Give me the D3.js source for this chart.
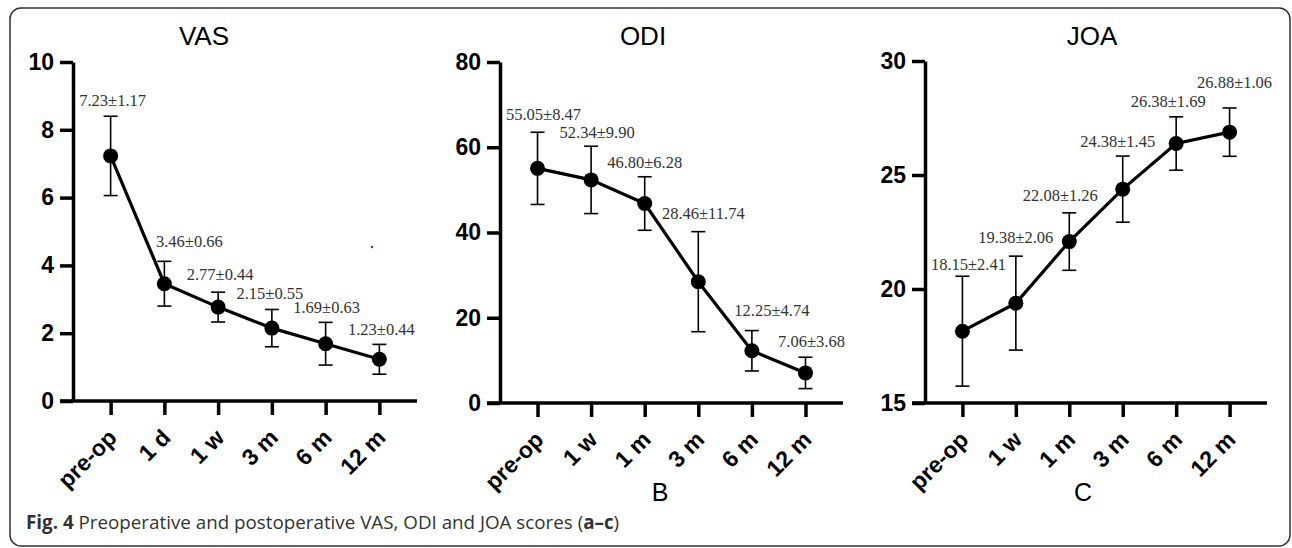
<!DOCTYPE html>
<html>
<head>
<meta charset="utf-8">
<script src="https://cdn.jsdelivr.net/npm/d3@7"></script>
<style>
  body { margin: 0; background: #fff; }
  svg { display: block; }
</style>
</head>
<body>
<div id="chart"></div>
<script>
// categories
const vasCats = ["pre-op", "1 d", "1 w", "3 m", "6 m", "12 m"];
const odiCats = ["pre-op", "1 w", "1 m", "3 m", "6 m", "12 m"];
const joaCats = ["pre-op", "1 w", "1 m", "3 m", "6 m", "12 m"];

// means
const vasMean = [7.23, 3.46, 2.77, 2.15, 1.69, 1.23];
const odiMean = [55.05, 52.34, 46.80, 28.46, 12.25, 7.06];
const joaMean = [18.15, 19.38, 22.08, 24.38, 26.38, 26.88];

// error bar half-widths as drawn in the figure
const vasErr = [1.17, 0.66, 0.44, 0.55, 0.63, 0.44];
const odiErr = [8.47, 7.9, 6.28, 11.74, 4.74, 3.68];
const joaErr = [2.41, 2.06, 1.26, 1.45, 1.17, 1.06];

// printed labels
const vasLabels = ["7.23\u00b11.17", "3.46\u00b10.66", "2.77\u00b10.44", "2.15\u00b10.55", "1.69\u00b10.63", "1.23\u00b10.44"];
const odiLabels = ["55.05\u00b18.47", "52.34\u00b19.90", "46.80\u00b16.28", "28.46\u00b111.74", "12.25\u00b14.74", "7.06\u00b13.68"];
const joaLabels = ["18.15\u00b12.41", "19.38\u00b12.06", "22.08\u00b11.26", "24.38\u00b11.45", "26.38\u00b11.69", "26.88\u00b11.06"];

// y ticks
const vasTicks = [0, 2, 4, 6, 8, 10];
const odiTicks = [0, 20, 40, 60, 80];
const joaTicks = [15, 20, 25, 30];

// label nudges (dx from point, dy from top of error bar)
const vasNudge = [[2, -10], [25, -14], [2, -12], [-2, -10], [1, -9], [2, -9]];
const odiNudge = [[6, -12], [6, -8], [0, -9], [5, -13], [20, -15], [6, -10]];
const joaNudge = [[6, -6], [0, -13], [-9, -12], [-5, -9], [-8, -10], [5, -20]];

const W = 1292, H = 548;
const svg = d3.select("#chart").append("svg").attr("width", W).attr("height", H);

// outer frame
svg.append("rect")
    .attr("x", 10).attr("y", 8).attr("width", 1280).attr("height", 538)
    .attr("rx", 11).attr("ry", 11)
    .attr("fill", "none").attr("stroke", "#333").attr("stroke-width", 1.5);

const panels = [
    { title: "VAS", titleX: 204, cats: vasCats, mean: vasMean, err: vasErr, labels: vasLabels, ticks: vasTicks,
      nudge: vasNudge, domain: [0, 10], ax: 73, ax2: 417, y0: 401, y1: 62, letter: null },
    { title: "ODI", titleX: 643, cats: odiCats, mean: odiMean, err: odiErr, labels: odiLabels, ticks: odiTicks,
      nudge: odiNudge, domain: [0, 80], ax: 500, ax2: 843, y0: 403, y1: 62, letter: "B", letterX: 660 },
    { title: "JOA", titleX: 1092, cats: joaCats, mean: joaMean, err: joaErr, labels: joaLabels, ticks: joaTicks,
      nudge: joaNudge, domain: [15, 30], ax: 925, ax2: 1267, y0: 403, y1: 61, letter: "C", letterX: 1083 }
];

const tickFont = sel => sel
    .style("font-family", "'Liberation Sans', Arial, sans-serif")
    .style("font-weight", "bold")
    .style("font-size", "23px")
    .style("fill", "#000");

panels.forEach(p => {
    const g = svg.append("g");
    const x = d3.scalePoint().domain(p.cats).range([p.ax, p.ax2]).padding(0.7);
    const y = d3.scaleLinear().domain(p.domain).range([p.y0, p.y1]);

    // title
    g.append("text")
        .attr("x", p.titleX).attr("y", 45)
        .attr("text-anchor", "middle")
        .style("font-family", "'Liberation Sans', Arial, sans-serif")
        .style("font-size", "26px")
        .text(p.title);

    // y axis
    const yAxis = g.append("g")
        .attr("transform", `translate(${p.ax},0)`)
        .call(d3.axisLeft(y).tickValues(p.ticks).tickSize(13).tickSizeOuter(0).tickPadding(6));
    yAxis.select(".domain").attr("stroke", "#000").attr("stroke-width", 3.5);
    yAxis.selectAll(".tick line").attr("stroke", "#000").attr("stroke-width", 3.5);
    yAxis.selectAll(".tick text").call(tickFont);

    // x axis
    const xAxis = g.append("g")
        .attr("transform", `translate(0,${p.y0})`)
        .call(d3.axisBottom(x).tickSize(14).tickSizeOuter(0));
    xAxis.select(".domain")
        .attr("d", `M${p.ax - 13},0H${p.ax2}`)
        .attr("stroke", "#000").attr("stroke-width", 3.5);
    xAxis.selectAll(".tick line").attr("stroke", "#000").attr("stroke-width", 3.5);
    xAxis.selectAll(".tick text")
        .call(tickFont)
        .attr("x", 0).attr("y", 0).attr("dy", null)
        .attr("text-anchor", "end")
        .attr("transform", "translate(7,38) rotate(-45)");

    // error bars
    const eb = g.append("g").attr("stroke", "#000").attr("stroke-width", 1.6);
    p.cats.forEach((c, i) => {
        const cx = x(c), top = y(p.mean[i] + p.err[i]), bot = y(p.mean[i] - p.err[i]);
        eb.append("line").attr("x1", cx).attr("x2", cx).attr("y1", top).attr("y2", bot);
        eb.append("line").attr("x1", cx - 7).attr("x2", cx + 7).attr("y1", top).attr("y2", top);
        eb.append("line").attr("x1", cx - 7).attr("x2", cx + 7).attr("y1", bot).attr("y2", bot);
    });

    // line
    const line = d3.line().x((d, i) => x(p.cats[i])).y(d => y(d));
    g.append("path").datum(p.mean)
        .attr("d", line)
        .attr("fill", "none").attr("stroke", "#000").attr("stroke-width", 3.2);

    // points
    g.selectAll("circle.pt").data(p.mean).join("circle")
        .attr("class", "pt")
        .attr("cx", (d, i) => x(p.cats[i]))
        .attr("cy", d => y(d))
        .attr("r", 7.5)
        .attr("fill", "#000");

    // value labels
    g.selectAll("text.val").data(p.labels).join("text")
        .attr("class", "val")
        .attr("x", (d, i) => x(p.cats[i]) + p.nudge[i][0])
        .attr("y", (d, i) => y(p.mean[i] + p.err[i]) + p.nudge[i][1])
        .attr("text-anchor", "middle")
        .style("font-family", "'Liberation Serif', 'Times New Roman', serif")
        .style("font-size", "16.5px")
        .style("fill", "#333")
        .text(d => d);

    // panel letter
    if (p.letter) {
        g.append("text")
            .attr("x", p.letterX).attr("y", 501)
            .attr("text-anchor", "middle")
            .style("font-family", "'Liberation Sans', Arial, sans-serif")
            .style("font-size", "25px")
            .text(p.letter);
    }
});

// stray blue dot
svg.append("circle").attr("cx", 372).attr("cy", 247).attr("r", 1.3).attr("fill", "#3a4bd0");

// caption
const cap = svg.append("text")
    .attr("x", 26).attr("y", 529)
    .style("font-family", "'Open Sans', 'Noto Sans', sans-serif")
    .style("font-size", "18.8px")
    .style("fill", "#333");
cap.append("tspan").style("font-weight", "bold").text("Fig. 4");
cap.append("tspan").text(" Preoperative and postoperative VAS, ODI and JOA scores (");
cap.append("tspan").style("font-weight", "bold").text("a\u2013c");
cap.append("tspan").text(")");
</script>
</body>
</html>
